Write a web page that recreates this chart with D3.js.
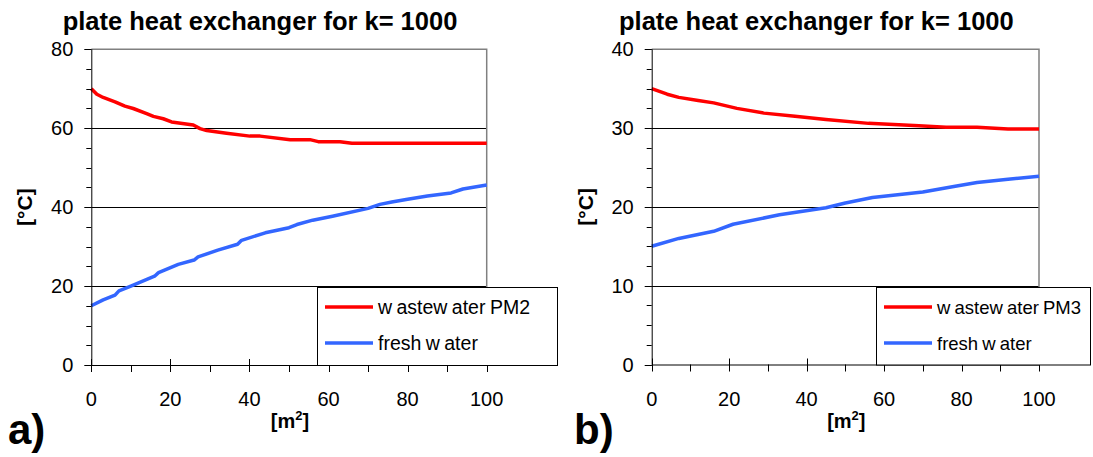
<!DOCTYPE html>
<html>
<head>
<meta charset="utf-8">
<script src="https://cdn.jsdelivr.net/npm/d3@7"></script>
<style>
  html, body { margin: 0; padding: 0; background: #fff; }
  svg { display: block; font-family: "Liberation Sans", Arial, sans-serif; }
</style>
</head>
<body>
<svg id="chart" width="1093" height="457"></svg>
<script>
// ---- data ----
const titleText = "plate heat exchanger for k= 1000";
const xTicks = [0, 20, 40, 60, 80, 100];
const leftYTicks = [0, 20, 40, 60, 80];
const rightYTicks = [0, 10, 20, 30, 40];

const leftWasteX = [0, 1.4, 3, 6, 8.5, 10.6, 14, 15.7, 18.2, 20.3, 25.8, 27.5, 29.2, 34.2, 40.1, 42.7, 50.3, 55.3, 57.4, 62.9, 65.9, 100];
const leftWasteY = [70, 68.6, 67.8, 66.7, 65.6, 65.0, 63.7, 63.0, 62.4, 61.6, 60.8, 59.9, 59.4, 58.7, 58.0, 58.0, 57.1, 57.1, 56.6, 56.6, 56.2, 56.2];
const leftFreshX = [0, 3, 6, 7, 10, 16, 17, 22, 26, 27, 32, 37, 38, 44, 50, 52, 56, 61, 70, 73, 76, 80, 85, 91, 94, 100];
const leftFreshY = [15, 16.5, 17.7, 18.8, 20, 22.5, 23.4, 25.5, 26.6, 27.4, 29.1, 30.6, 31.6, 33.5, 34.8, 35.6, 36.7, 37.7, 39.7, 40.7, 41.3, 42, 42.8, 43.6, 44.6, 45.6];

const rightWasteX = [0, 4, 7, 12, 16, 22, 29, 37, 45, 56, 69, 76, 84, 92, 100];
const rightWasteY = [35, 34.3, 33.9, 33.5, 33.2, 32.5, 31.9, 31.5, 31.1, 30.6, 30.3, 30.1, 30.1, 29.9, 29.9];
const rightFreshX = [0, 7, 16, 21, 33, 45, 50, 57, 70, 78, 84, 92, 100];
const rightFreshY = [15, 16, 16.9, 17.8, 19, 19.9, 20.5, 21.2, 21.9, 22.6, 23.1, 23.5, 23.9];

const leftLegend = ["w astew ater PM2", "fresh w ater"];
const rightLegend = ["w astew ater PM3", "fresh w ater"];
const seriesColors = ["#ff0000", "#3366ff"];

// ---- drawing ----
const svg = d3.select("#chart");

function panel(o) {
  const g = svg.append("g");
  const x = d3.scaleLinear().domain([0, 100]).range([o.x0, o.x1]);
  const y = d3.scaleLinear().domain([0, o.yMax]).range([o.yb, o.yt]);
  const minorY = d3.range(0, o.yMax + 0.001, o.yMax / 16);
  const minorX = d3.range(10, 100, 20);

  // gridlines
  g.append("g").selectAll("line").data(o.yTicks.filter(v => v > 0 && v < o.yMax)).join("line")
    .attr("x1", o.x0).attr("x2", o.x1)
    .attr("y1", d => Math.round(y(d)) + 0.5).attr("y2", d => Math.round(y(d)) + 0.5)
    .attr("stroke", "#000").attr("stroke-width", 1);

  // plot frame top/right (gray)
  g.append("path")
    .attr("d", `M${o.x0},${y(o.yMax)}H${o.x1}V${o.yb}`)
    .attr("fill", "none").attr("stroke", "#808080").attr("stroke-width", 1.5);

  // series lines
  const line = d3.line().x(d => x(d[0])).y(d => y(d[1]));
  o.series.forEach((s, i) => {
    g.append("path").datum(d3.zip(s.x, s.y))
      .attr("d", line).attr("fill", "none")
      .attr("stroke", seriesColors[i]).attr("stroke-width", 3.5)
      .attr("stroke-linejoin", "round");
  });

  // y axis
  const ya = g.append("g");
  ya.append("line").attr("x1", o.x0 + 0.5).attr("x2", o.x0 + 0.5)
    .attr("y1", y(o.yMax)).attr("y2", o.yb).attr("stroke", "#000");
  ya.selectAll("line.minor").data(minorY).join("line").attr("class", "minor")
    .attr("x1", o.x0 - 5).attr("x2", o.x0)
    .attr("y1", d => Math.round(y(d)) + 0.5).attr("y2", d => Math.round(y(d)) + 0.5)
    .attr("stroke", "#000");
  ya.selectAll("line.major").data(o.yTicks).join("line").attr("class", "major")
    .attr("x1", o.x0 - 7).attr("x2", o.x0)
    .attr("y1", d => Math.round(y(d)) + 0.5).attr("y2", d => Math.round(y(d)) + 0.5)
    .attr("stroke", "#000");
  ya.selectAll("text").data(o.yTicks).join("text")
    .attr("x", o.x0 - 18).attr("y", d => y(d) + 7)
    .attr("text-anchor", "end").attr("font-size", 20).attr("fill", "#000")
    .text(d => d);

  // x axis
  const xa = g.append("g");
  xa.append("line").attr("x1", o.x0).attr("x2", o.x1)
    .attr("y1", o.yb + 0.5).attr("y2", o.yb + 0.5).attr("stroke", "#000");
  xa.selectAll("line.major").data(xTicks).join("line").attr("class", "major")
    .attr("x1", d => Math.round(x(d)) + 0.5).attr("x2", d => Math.round(x(d)) + 0.5)
    .attr("y1", o.yb - 6).attr("y2", o.yb + 7).attr("stroke", "#000");
  xa.selectAll("line.minor").data(minorX).join("line").attr("class", "minor")
    .attr("x1", d => Math.round(x(d)) + 0.5).attr("x2", d => Math.round(x(d)) + 0.5)
    .attr("y1", o.yb).attr("y2", o.yb + 7).attr("stroke", "#000");
  xa.selectAll("text").data(xTicks).join("text")
    .attr("x", d => x(d)).attr("y", o.yb + 41)
    .attr("text-anchor", "middle").attr("font-size", 20).attr("fill", "#000")
    .text(d => d);

  // legend
  const lg = g.append("g");
  lg.append("rect").attr("x", o.legX + 0.5).attr("y", o.legY + 0.5)
    .attr("width", o.legW).attr("height", o.yb - o.legY)
    .attr("fill", "#fff").attr("stroke", "#000").attr("stroke-width", 1);
  o.legend.forEach((t, i) => {
    const cy = o.legY + 20 + i * 36;
    lg.append("line").attr("x1", o.legX + 8).attr("x2", o.legX + 56)
      .attr("y1", cy).attr("y2", cy)
      .attr("stroke", seriesColors[i]).attr("stroke-width", 3.5);
    lg.append("text").attr("x", o.legX + 61).attr("y", cy + 7)
      .attr("font-size", o.legFont).attr("fill", "#000")
      .attr("word-spacing", -1)
      .text(t);
  });

  // titles
  g.append("text").attr("x", (o.x0 + o.x1) / 2 - 29).attr("y", 30)
    .attr("text-anchor", "middle").attr("font-size", 25.5).attr("font-weight", "bold")
    .text(titleText);
  g.append("text")
    .attr("transform", `translate(${o.x0 - 59},${(o.yt + o.yb) / 2}) rotate(-90)`)
    .attr("text-anchor", "middle").attr("font-size", 21).attr("font-weight", "bold")
    .text("[°C]");
  const xl = g.append("text").attr("x", (o.x0 + o.x1) / 2 + 1).attr("y", o.yb + 63)
    .attr("text-anchor", "middle").attr("font-size", 20).attr("font-weight", "bold");
  xl.append("tspan").text("[m");
  xl.append("tspan").attr("dy", -8).attr("font-size", 13).text("2");
  xl.append("tspan").attr("dy", 8).text("]");
  g.append("text").attr("x", o.labX).attr("y", 444)
    .attr("font-size", 42).attr("font-weight", "bold").text(o.lab);
}

panel({
  x0: 91.3, x1: 486.7, yt: 49.3, yb: 365, yMax: 80, yTicks: leftYTicks,
  series: [{x: leftWasteX, y: leftWasteY}, {x: leftFreshX, y: leftFreshY}],
  legend: leftLegend, legX: 317, legY: 287, legW: 240, legFont: 19.5,
  lab: "a)", labX: 8
});
panel({
  x0: 651.7, x1: 1039, yt: 49.3, yb: 364.5, yMax: 40, yTicks: rightYTicks,
  series: [{x: rightWasteX, y: rightWasteY}, {x: rightFreshX, y: rightFreshY}],
  legend: rightLegend, legX: 876, legY: 287, legW: 214, legFont: 18.5,
  lab: "b)", labX: 574
});
</script>
</body>
</html>
